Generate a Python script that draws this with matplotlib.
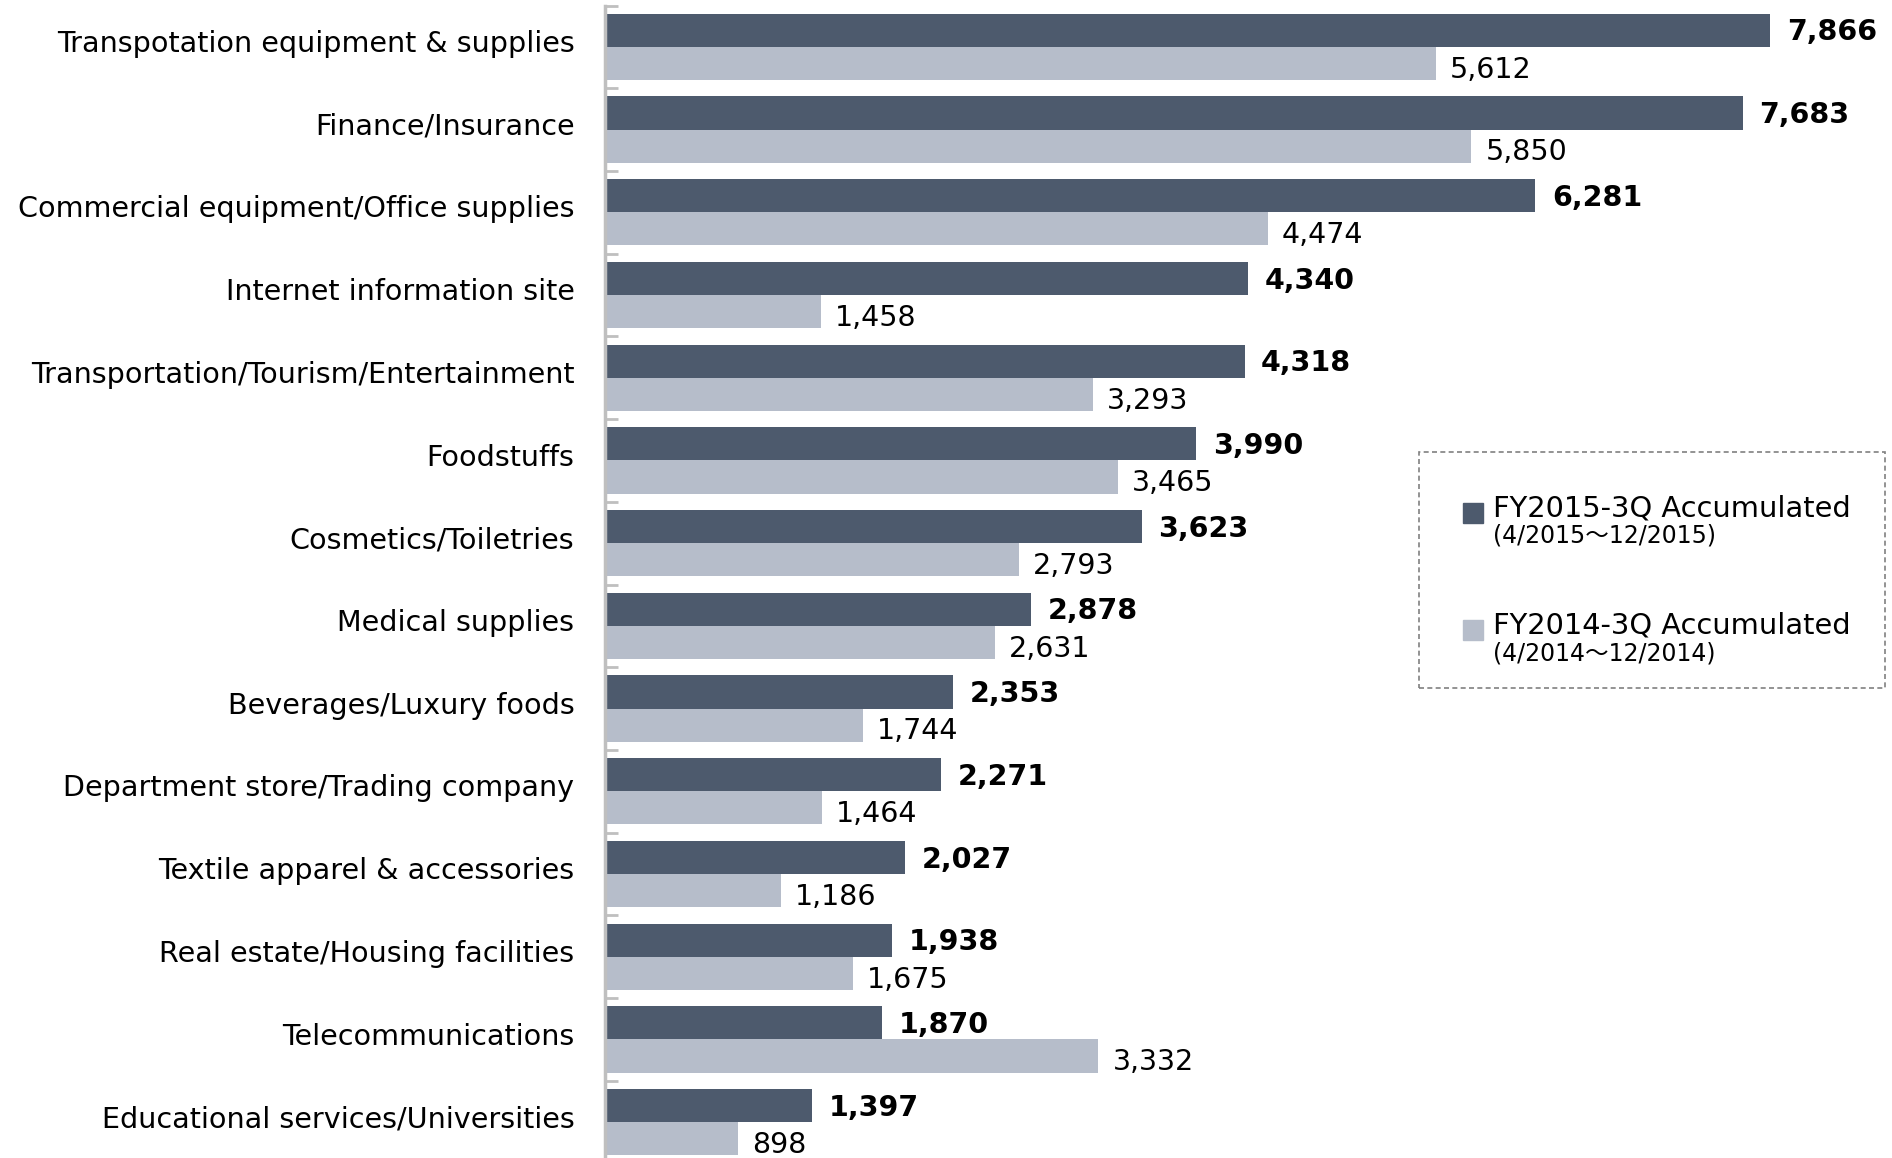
import matplotlib.pyplot as plt
from matplotlib.patches import Rectangle
import numpy as np

plt.rcParams['font.family'] = ['DejaVu Sans', 'Noto Sans CJK JP']

categories = [
    'Transpotation equipment & supplies',
    'Finance/Insurance',
    'Commercial equipment/Office supplies',
    'Internet information site',
    'Transportation/Tourism/Entertainment',
    'Foodstuffs',
    'Cosmetics/Toiletries',
    'Medical supplies',
    'Beverages/Luxury foods',
    'Department store/Trading company',
    'Textile apparel & accessories',
    'Real estate/Housing facilities',
    'Telecommunications',
    'Educational services/Universities',
]
fy2015 = [7866, 7683, 6281, 4340, 4318, 3990, 3623, 2878, 2353, 2271, 2027, 1938, 1870, 1397]
fy2014 = [5612, 5850, 4474, 1458, 3293, 3465, 2793, 2631, 1744, 1464, 1186, 1675, 3332, 898]

legend_main = ['FY2015-3Q Accumulated', 'FY2014-3Q Accumulated']
legend_sub = ['(4/2015～12/2015)', '(4/2014～12/2014)']

dark = '#4d5a6d'
light = '#b6bdca'
W, H = 1892, 1158

fig = plt.figure(figsize=(W / 100, H / 100), dpi=100)
ax = fig.add_axes([605 / W, -5.5 / H, 1 - 605 / W, 1163.5 / H - 13.5 / H + 8 / H])

y = np.arange(len(categories))
bh = 0.4
ax.barh(y - bh / 2, fy2015, height=bh, color=dark)
ax.barh(y + bh / 2, fy2014, height=bh, color=light)

for yi, v in zip(y, fy2015):
    ax.annotate(f'{v:,}', (v, yi - bh / 2), xytext=(12, -1.5), textcoords='offset points',
                va='center', ha='left', fontsize=20.5, fontweight='bold')
for yi, v in zip(y, fy2014):
    ax.annotate(f'{v:,}', (v, yi + bh / 2), xytext=(10, -4.5), textcoords='offset points',
                va='center', ha='left', fontsize=20.5)

ax.set_xlim(0, (W - 605) / 1165 * 7866)
ax.set_ylim(len(categories) - 0.5, -0.5)

# boundary ticks on the spine, labels on the category centres
ax.set_yticks(np.arange(len(categories) + 1) - 0.5)
ax.set_yticklabels([])
ax.tick_params(axis='y', which='major', direction='in', length=9, width=2, color='#bfbfbf')
ax.set_yticks(y - 0.07, minor=True)
ax.set_yticklabels(categories, minor=True, fontsize=20.6)
ax.tick_params(axis='y', which='minor', length=0, pad=22)
ax.set_xticks([])

for s in ['top', 'right', 'bottom']:
    ax.spines[s].set_visible(False)
ax.spines['left'].set_color('#bfbfbf')
ax.spines['left'].set_linewidth(2.5)

# legend box
def fx(px):
    return px / W

def fy(py):
    return 1 - py / H

fig.patches.append(Rectangle((fx(1419), fy(688)), fx(1885) - fx(1419), fy(452) - fy(688),
                             transform=fig.transFigure, fill=False, edgecolor='#808080',
                             linestyle=(0, (3, 2)), linewidth=1.2))
for i, (main, sub, col) in enumerate(zip(legend_main, legend_sub, [dark, light])):
    top = 503 + i * 117
    fig.patches.append(Rectangle((fx(1463), fy(top + 20)), fx(20), 20 / H,
                                 transform=fig.transFigure, color=col))
    fig.text(fx(1493), fy(top + 13), main, fontsize=20.8, va='baseline', ha='left')
    fig.text(fx(1493), fy(top + 40), sub, fontsize=17, va='baseline', ha='left')

fig.savefig('out.png', dpi=100)
